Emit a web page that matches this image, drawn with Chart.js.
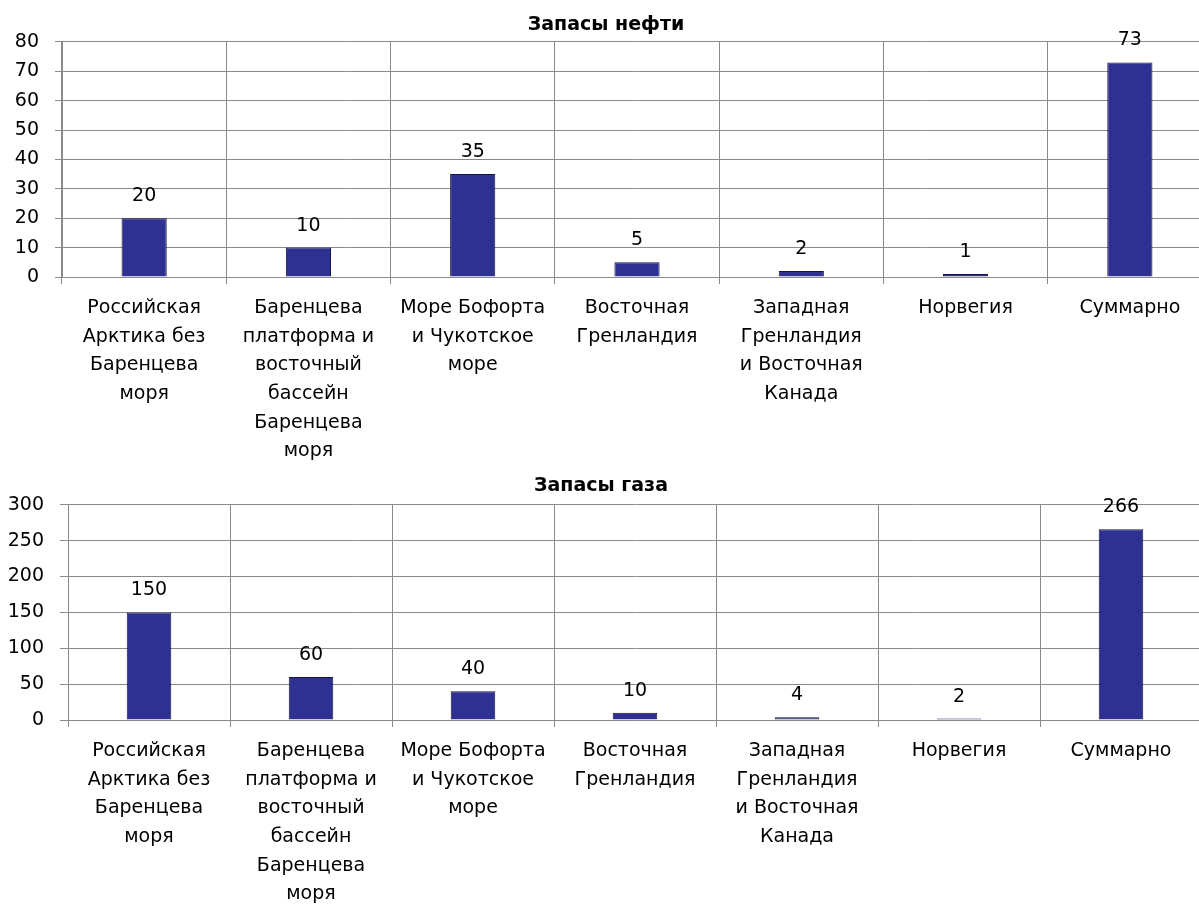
<!DOCTYPE html>
<html lang="ru">
<head>
<meta charset="utf-8">
<title>Запасы нефти и газа в Арктике</title>
<script src="https://cdn.jsdelivr.net/npm/chart.js@4.4.1/dist/chart.umd.min.js"></script>
<style>
  html, body { margin: 0; padding: 0; background: #fff; overflow: hidden; }
  .panel { position: absolute; left: 0; }
  #oilBox { top: 0; width: 1230px; height: 470px; }
  #gasBox { top: 470px; width: 1222px; height: 438px; }
</style>
</head>
<body>
<div class="panel" id="oilBox"><canvas id="oil"></canvas></div>
<div class="panel" id="gasBox"><canvas id="gas"></canvas></div>
<script>
// Regions (multi-line axis labels)
const categories = [
  ["Российская", "Арктика без", "Баренцева", "моря"],
  ["Баренцева", "платформа и", "восточный", "бассейн", "Баренцева", "моря"],
  ["Море Бофорта", "и Чукотское", "море"],
  ["Восточная", "Гренландия"],
  ["Западная", "Гренландия", "и Восточная", "Канада"],
  ["Норвегия"],
  ["Суммарно"]
];

// Oil reserves
const oilTitle = "Запасы нефти";
const oilValues = [20, 10, 35, 5, 2, 1, 73];
const oilTicks = { min: 0, max: 80, step: 10 };

// Gas reserves
const gasTitle = "Запасы газа";
const gasValues = [150, 60, 40, 10, 4, 2, 266];
const gasTicks = { min: 0, max: 300, step: 50 };

const FONT = '"DejaVu Sans", "Open Sans", sans-serif';
const TEXT_SIZE = 19;
const GRID = '#8a8a8a';
const BAR = '#2e3192';
const BAR_EDGE = '#14143a';

// Writes each bar's value just above it
const valueLabels = {
  id: 'valueLabels',
  afterDatasetsDraw(chart) {
    const { ctx } = chart;
    const meta = chart.getDatasetMeta(0);
    const values = chart.data.datasets[0].data;
    ctx.save();
    ctx.font = TEXT_SIZE + 'px ' + FONT;
    ctx.fillStyle = '#000';
    ctx.textAlign = 'center';
    ctx.textBaseline = 'alphabetic';
    meta.data.forEach((bar, i) => {
      ctx.fillText(String(values[i]), bar.x, bar.y - 17);
    });
    ctx.restore();
  }
};

function makeChart(id, title, values, ticks, opts) {
  return new Chart(document.getElementById(id), {
    type: 'bar',
    data: {
      labels: categories,
      datasets: [{
        data: values,
        backgroundColor: BAR,
        borderColor: BAR_EDGE,
        borderWidth: 1,
        categoryPercentage: 1,
        barPercentage: 0.275
      }]
    },
    options: {
      responsive: true,
      maintainAspectRatio: false,
      animation: false,
      layout: { padding: { left: 0, right: opts.padRight, top: 0, bottom: 0 } },
      plugins: {
        legend: { display: false },
        tooltip: { enabled: false },
        title: {
          display: true,
          text: title,
          color: '#000',
          font: { family: FONT, size: 19, weight: 'bold', lineHeight: 1.2 },
          padding: opts.titlePad
        }
      },
      scales: {
        x: {
          grid: { color: GRID, lineWidth: 1, offset: true, drawTicks: true, tickLength: 7, tickColor: GRID },
          border: { color: GRID, width: 1 },
          ticks: {
            color: '#000',
            font: { family: FONT, size: TEXT_SIZE, lineHeight: 1.505 },
            maxRotation: 0,
            minRotation: 0,
            autoSkip: false,
            padding: 10
          },
          afterFit(scale) { scale.height = opts.xHeight; }
        },
        y: {
          min: ticks.min,
          max: ticks.max,
          grid: { color: GRID, lineWidth: 1, drawTicks: true, tickLength: opts.yTick, tickColor: GRID },
          border: { color: GRID, width: 1 },
          ticks: {
            stepSize: ticks.step,
            color: '#000',
            font: { family: FONT, size: TEXT_SIZE },
            padding: 16
          },
          afterFit(scale) { scale.width = opts.yWidth; }
        }
      }
    },
    plugins: [valueLabels]
  });
}

makeChart('oil', oilTitle, oilValues, oilTicks, {
  padRight: 18, yWidth: 62, yTick: 7, xHeight: 193, titlePad: { top: 14, bottom: 5 }
});
makeChart('gas', gasTitle, gasValues, gasTicks, {
  padRight: 20, yWidth: 68, yTick: 8, xHeight: 188, titlePad: { top: 5, bottom: 7 }
});
</script>
</body>
</html>
